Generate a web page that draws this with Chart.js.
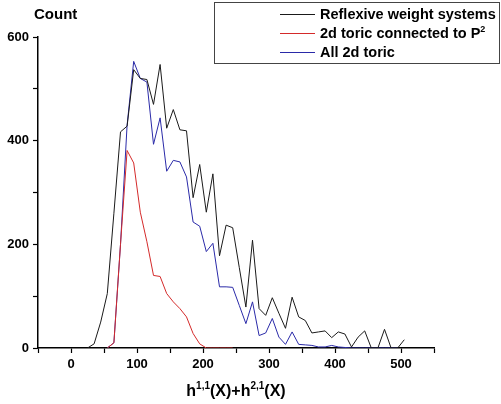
<!DOCTYPE html>
<html>
<head>
<meta charset="utf-8">
<script src="https://cdn.jsdelivr.net/npm/chart.js@4/dist/chart.umd.min.js"></script>
<style>
  html, body { margin: 0; padding: 0; background: #fff; }
  canvas { display: block; }
</style>
</head>
<body>
<canvas id="chart" width="501" height="404"></canvas>
<script>
// bin centres of h11 + h21
const hValues = [25, 35, 45, 55, 65, 75, 85, 95, 105, 115,
  125, 135, 145, 155, 165, 175, 185, 195, 205, 215,
  225, 235, 245, 255, 265, 275, 285, 295, 305, 315,
  325, 335, 345, 355, 365, 375, 385, 395, 405, 415,
  425, 435, 445, 455, 465, 475, 485, 495, 505];

const reflexive = [0, 8, 50, 105, 260, 417, 428, 537, 520, 518,
  470, 547, 424, 460, 421, 419, 290, 354, 262, 336,
  178, 237, 232, 155, 79, 208, 76, 63, 97, 67,
  38, 98, 60, 53, 29, 31, 33, 20, 31, 27,
  2, 21, 33, 0, 0, 36, 0, 0, 16];

const toricP2 = [null, null, null, 0, 10, 200, 381, 357, 262, 205,
  140, 138, 105, 89, 76, 60, 28, 8, 0, 0,
  0, 0, 0, null, null, null, null, null, null, null,
  null, null, null, null, null, null, null, null, null, null,
  null, null, null, null, null, null, null, null, null];

const allToric = [null, null, null, 0, 10, 200, 430, 553, 520, 513,
  393, 444, 341, 362, 359, 330, 243, 235, 186, 202,
  118, 118, 117, 82, 47, 89, 24, 29, 57, 21,
  7, 31, 7, 6, 5, 2, 2, 5, 2, 1,
  0, 0, 0, 0, 0, 0, 0, 0, null];

const seriesNames = ['Reflexive weight systems', '2d toric connected to P', 'All 2d toric'];
const seriesColors = ['#1a1a1a', '#d42a2a', '#2a2aa8'];

function toPoints(values) {
  return hValues.map((h, i) => ({ x: h, y: values[i] }));
}

const FONT = '"Liberation Sans", Arial, sans-serif';

// text with superscripts: parts = [[text, isSup], ...]
function drawRich(ctx, parts, x, y, size, align) {
  const supSize = Math.round(size * 0.62);
  let total = 0;
  parts.forEach(([t, sup]) => {
    ctx.font = 'bold ' + (sup ? supSize : size) + 'px ' + FONT;
    total += ctx.measureText(t).width;
  });
  let cx = align === 'center' ? x - total / 2 : x;
  ctx.textAlign = 'left';
  ctx.textBaseline = 'alphabetic';
  parts.forEach(([t, sup]) => {
    ctx.font = 'bold ' + (sup ? supSize : size) + 'px ' + FONT;
    ctx.fillText(t, cx, sup ? y - size * 0.42 : y);
    cx += ctx.measureText(t).width;
  });
}

const labelsPlugin = {
  id: 'labels',
  afterDraw(chart) {
    const ctx = chart.ctx;
    const area = chart.chartArea;
    ctx.save();
    ctx.fillStyle = '#000';

    // y title
    drawRich(ctx, [['Count', false]], 34, 19, 15, 'left');

    // x title
    const cx = (area.left + area.right) / 2;
    drawRich(ctx, [['h', false], ['1,1', true], ['(X)+h', false], ['2,1', true], ['(X)', false]],
      cx, 396, 16, 'center');

    // legend box
    ctx.strokeStyle = '#444';
    ctx.lineWidth = 1;
    ctx.strokeRect(214.5, 2.5, 285, 61);
    const rows = [14.5, 33.5, 52.5];
    seriesNames.forEach((name, i) => {
      ctx.strokeStyle = seriesColors[i];
      ctx.lineWidth = 1;
      ctx.beginPath();
      ctx.moveTo(280, rows[i]);
      ctx.lineTo(315, rows[i]);
      ctx.stroke();
      ctx.fillStyle = '#000';
      const parts = i === 1 ? [[name, false], ['2', true]] : [[name, false]];
      drawRich(ctx, parts, 320, rows[i] + 4.5, 14.5, 'left');
    });
    ctx.restore();
  }
};

const ctx = document.getElementById('chart').getContext('2d');
new Chart(ctx, {
  type: 'line',
  data: {
    datasets: [
      { label: seriesNames[0], data: toPoints(reflexive), borderColor: seriesColors[0] },
      { label: seriesNames[1], data: toPoints(toricP2), borderColor: seriesColors[1] },
      { label: seriesNames[2], data: toPoints(allToric), borderColor: seriesColors[2] }
    ]
  },
  options: {
    responsive: false,
    animation: false,
    layout: { padding: { top: 37, right: 67, left: 0, bottom: 0 } },
    elements: {
      line: { borderWidth: 1, tension: 0 },
      point: { radius: 0 }
    },
    spanGaps: false,
    scales: {
      x: {
        type: 'linear',
        min: -50,
        max: 550,
        afterFit: s => { s.height = 56; },
        ticks: {
          stepSize: 50,
          autoSkip: false,
          maxRotation: 0,
          padding: 4,
          color: '#000',
          font: { family: FONT, size: 13, weight: 'bold' },
          callback: v => (v % 100 === 0 && v >= 0 && v <= 500) ? String(v) : ''
        },
        grid: { drawOnChartArea: false, drawTicks: true, tickLength: 5, tickColor: '#000', tickWidth: 1.2 },
        border: { display: true, color: '#000', width: 1.5 }
      },
      y: {
        min: 0,
        max: 600,
        afterFit: s => { s.width = 38; },
        ticks: {
          stepSize: 100,
          padding: 4,
          color: '#000',
          font: { family: FONT, size: 13, weight: 'bold' },
          callback: v => (v % 200 === 0) ? String(v) : ''
        },
        grid: { drawOnChartArea: false, drawTicks: true, tickLength: 5, tickColor: '#000', tickWidth: 1.2 },
        border: { display: true, color: '#000', width: 1.5 }
      }
    },
    plugins: {
      legend: { display: false },
      tooltip: { enabled: false }
    }
  },
  plugins: [labelsPlugin]
});
</script>
</body>
</html>
